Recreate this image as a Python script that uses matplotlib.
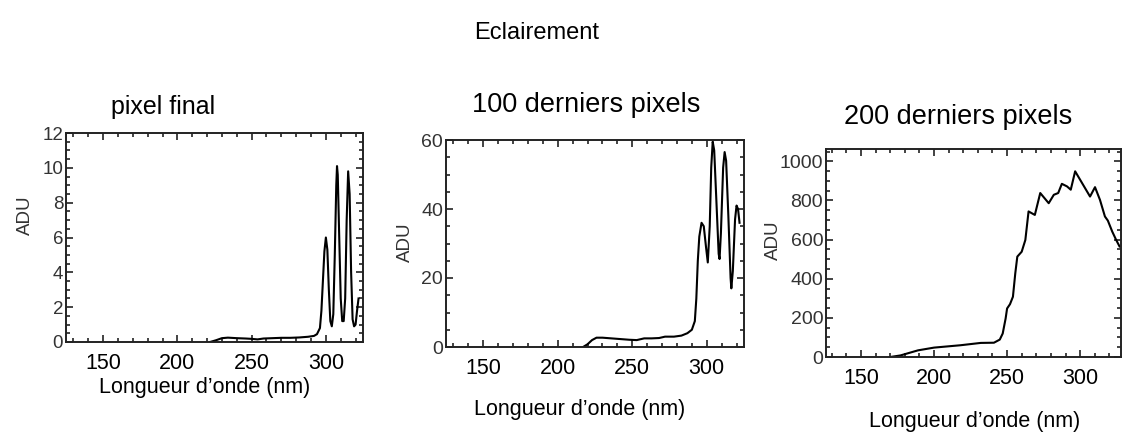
import matplotlib.pyplot as plt
from matplotlib.ticker import MultipleLocator

plt.rcParams['font.family'] = ['Liberation Sans', 'DejaVu Sans']

# ---- data ----
# pixel final
wl_final = [222, 226, 230, 234, 240, 246, 250, 254, 258, 264, 270, 276, 282, 288, 292, 294,
            296, 297, 298, 299, 300, 301, 302, 303, 304, 305, 306, 307, 307.5, 308, 309, 310,
            311, 312, 313, 314, 315, 316, 317, 318, 319, 320, 321, 322]
adu_final = [0.0, 0.1, 0.22, 0.25, 0.22, 0.2, 0.18, 0.15, 0.2, 0.22, 0.24, 0.24, 0.26, 0.3, 0.35, 0.45,
             0.8, 1.8, 3.5, 5.2, 6.0, 5.3, 3.0, 1.2, 0.9, 1.6, 5.0, 9.0, 10.1, 9.6, 6.0, 2.5,
             1.2, 1.2, 2.5, 7.0, 9.8, 8.5, 4.0, 1.3, 0.9, 1.0, 1.8, 2.5]

# 100 derniers pixels
wl_100 = [217, 220, 223, 226, 230, 236, 242, 248, 253, 258, 263, 268, 272, 278, 283, 287,
          290, 292, 293, 294, 295, 296.5, 298, 299.5, 300.7, 302, 303, 304, 305, 306.5, 308,
          308.6, 309.5, 311, 312, 313, 314.5, 316, 316.5, 317.5, 319, 320, 321, 322]
adu_100 = [0, 0.8, 2.0, 2.7, 2.7, 2.5, 2.3, 2.1, 2.0, 2.5, 2.5, 2.6, 3.0, 3.0, 3.3, 4.0,
           5.0, 7.5, 14, 25, 32, 36, 35, 29, 24.5, 35, 52, 59.5, 57, 42, 27,
           25.5, 33, 52, 56.5, 54, 38, 20, 17, 22, 37, 41, 40, 36]

# 200 derniers pixels
wl_200 = [170, 177, 189, 200, 218, 232, 241, 245, 247, 249, 250, 252, 254, 255.6, 257,
          260, 262.5, 264.7, 269, 272.7, 278.5, 282, 285, 287.5, 291, 293.6, 296.6, 300,
          303.4, 306.8, 310.2, 313.6, 317, 319, 322, 324.7, 327]
adu_200 = [0, 8, 34, 48, 60, 72, 73, 89, 120, 197, 248, 270, 308, 427, 513,
           538, 598, 744, 726, 838, 786, 829, 838, 885, 872, 855, 949, 906,
           863, 820, 868, 803, 718, 697, 641, 598, 565]

fig = plt.figure(figsize=(11.23, 4.34), dpi=100)
W, H = 1123, 434


def px_axes(l, t, r, b):
    return fig.add_axes([l / W, 1 - b / H, (r - l) / W, (b - t) / H])


def ftext(x, y, s, **kw):
    fig.text(x / W, 1 - y / H, s, ha='center', va='center', **kw)


def style(ax, xlim, ylim, ymaj, ymin, ysize):
    ax.set_xlim(*xlim)
    ax.set_ylim(*ylim)
    ax.xaxis.set_major_locator(MultipleLocator(50))
    ax.xaxis.set_minor_locator(MultipleLocator(10))
    ax.yaxis.set_major_locator(MultipleLocator(ymaj))
    ax.yaxis.set_minor_locator(MultipleLocator(ymin))
    ax.tick_params(which='both', direction='in', top=True, right=True, color='#222222')
    ax.tick_params(which='major', length=5, width=1.2)
    ax.tick_params(which='minor', length=3, width=1.2)
    ax.tick_params(axis='x', labelsize=15.5, pad=8)
    ax.tick_params(axis='y', labelsize=ysize, pad=2, labelcolor='#333333')
    for sp in ax.spines.values():
        sp.set_linewidth(1.4)
        sp.set_color('#222222')


# panel 1
ax1 = px_axes(66, 133, 363, 342)
ax1.plot(wl_final, adu_final, color='black', lw=1.5)
style(ax1, (125, 325), (0, 12), 2, 0.5, 13.5)

# panel 2
ax2 = px_axes(446, 140, 744, 347)
ax2.plot(wl_100, adu_100, color='black', lw=1.5)
style(ax2, (125, 325), (0, 60), 20, 5, 14)

# panel 3
ax3 = px_axes(826, 149, 1121, 357)
ax3.plot(wl_200, adu_200, color='black', lw=1.5)
style(ax3, (126, 328), (0, 1063), 200, 50, 14)

# titles and labels
ftext(537, 33, 'Eclairement', fontsize=17)
ftext(163, 107, 'pixel final', fontsize=18)
ftext(586, 105, '100 derniers pixels', fontsize=19.5)
ftext(958, 117, '200 derniers pixels', fontsize=19.5)

xl = 'Longueur d\u2019onde (nm)'
ftext(205, 388, xl, fontsize=15.5)
ftext(580, 410, xl, fontsize=15.5)
ftext(975, 421, xl, fontsize=15.5)

ftext(25, 215, 'ADU', fontsize=13.5, rotation=90, color='#333333')
ftext(405, 242, 'ADU', fontsize=13.5, rotation=90, color='#333333')
ftext(773, 240, 'ADU', fontsize=13.5, rotation=90, color='#333333')

fig.savefig('out.png', dpi=100, facecolor='white')
